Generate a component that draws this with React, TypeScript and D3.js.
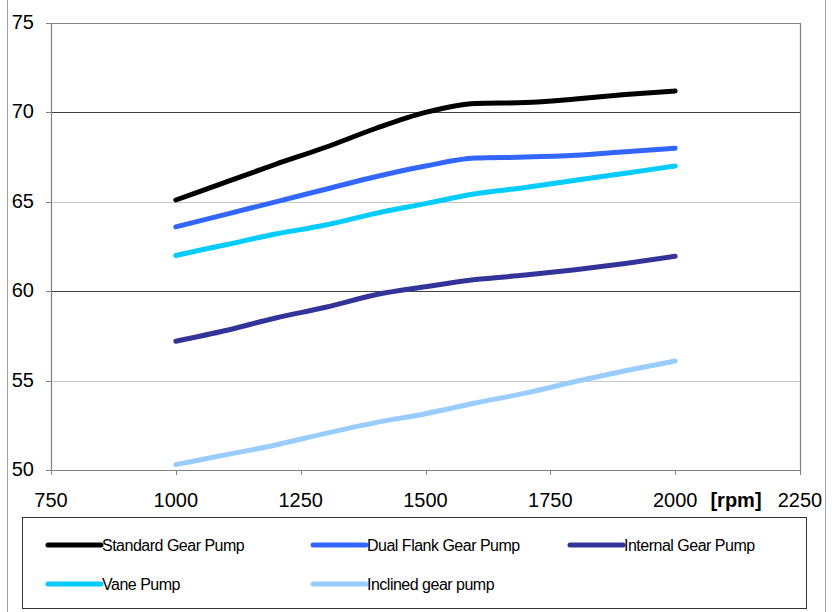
import React from "react";
import * as d3 from "d3";

const rpm = [1000, 1100, 1200, 1300, 1400, 1500, 1600, 1700, 1800, 1900, 2000];
const standardGear = [65.1, 66.1, 67.1, 68.05, 69.1, 70.0, 70.5, 70.55, 70.75, 71.0, 71.2];
const dualFlankGear = [63.6, 64.3, 65.0, 65.7, 66.4, 67.0, 67.45, 67.5, 67.6, 67.8, 68.0];
const internalGear = [57.2, 57.8, 58.5, 59.1, 59.8, 60.25, 60.65, 60.9, 61.2, 61.55, 61.95];
const vanePump = [62.0, 62.6, 63.2, 63.7, 64.35, 64.9, 65.45, 65.8, 66.2, 66.6, 67.0];
const inclinedGear = [50.3, 50.85, 51.4, 52.05, 52.65, 53.15, 53.75, 54.3, 54.95, 55.55, 56.1];

const seriesNames = ["Standard Gear Pump", "Dual Flank Gear Pump", "Internal Gear Pump", "Vane Pump", "Inclined gear pump"];
const seriesValues = [standardGear, dualFlankGear, internalGear, vanePump, inclinedGear];
const seriesColors = ["#000000", "#3366FF", "#333399", "#00CCFF", "#99CCFF"];

const xTicks = [750, 1000, 1250, 1500, 1750, 2000, 2250];
const yTicks = [50, 55, 60, 65, 70, 75];
const darkGrid = [60, 70];

export default function App() {
  const left = 51, right = 800, top = 23, bottom = 470;
  const x = d3.scaleLinear().domain([750, 2250]).range([left, right]);
  const y = d3.scaleLinear().domain([50, 75]).range([bottom, top]);
  const line = d3
    .line<number>()
    .x((_, i) => x(rpm[i]))
    .y((d) => y(d))
    .curve(d3.curveMonotoneX);

  const font = "'Liberation Sans', Arial, sans-serif";
  const legendPos = [
    [48, 545],
    [313, 545],
    [570, 545],
    [48, 584],
    [313, 584],
  ];

  return (
    <svg
      width={832}
      height={612}
      style={{ position: "absolute", left: 0, top: 0, background: "#fff" }}
      fontFamily={font}
    >
      <rect x={0} y={0} width={832} height={612} fill="#fff" />
      <line x1={7.5} x2={7.5} y1={0} y2={612} stroke="#a0a0a0" />
      <line x1={825.5} x2={825.5} y1={0} y2={612} stroke="#a0a0a0" />

      {/* gridlines */}
      {yTicks
        .filter((t) => t !== 50 && t !== 75)
        .map((t) => (
          <line
            key={t}
            x1={left}
            x2={right}
            y1={Math.round(y(t)) + 0.5}
            y2={Math.round(y(t)) + 0.5}
            stroke={darkGrid.includes(t) ? "#404040" : "#c8c8c8"}
            strokeWidth={1}
          />
        ))}

      {/* plot border */}
      <path
        d={`M${left + 0.5},${bottom}V${top + 0.5}H${right + 0.5}V${bottom}`}
        fill="none"
        stroke="#808080"
        strokeWidth={1.2}
      />
      <line x1={left} x2={right + 1} y1={bottom + 0.5} y2={bottom + 0.5} stroke="#808080" strokeWidth={1.2} />

      {/* y ticks */}
      {yTicks.map((t) => (
        <g key={t}>
          <line x1={left - 5} x2={left} y1={Math.round(y(t)) + 0.5} y2={Math.round(y(t)) + 0.5} stroke="#808080" />
          <text x={34} y={y(t) + 6} textAnchor="end" fontSize={20} fill="#000">
            {t}
          </text>
        </g>
      ))}

      {/* x ticks */}
      {xTicks.map((t) => (
        <g key={t}>
          <line x1={Math.round(x(t)) + 0.5} x2={Math.round(x(t)) + 0.5} y1={bottom} y2={bottom + 5} stroke="#808080" />
          <text x={x(t)} y={507} textAnchor="middle" fontSize={20} fill="#000">
            {t}
          </text>
        </g>
      ))}
      <text x={736} y={507} textAnchor="middle" fontSize={20} fontWeight="bold" fill="#000">
        [rpm]
      </text>

      {/* series */}
      {seriesValues.map((vals, i) => (
        <path
          key={seriesNames[i]}
          d={line(vals) || ""}
          fill="none"
          stroke={seriesColors[i]}
          strokeWidth={5}
          strokeLinecap="round"
          strokeLinejoin="round"
        />
      ))}

      {/* legend */}
      <rect x={22.5} y={517.5} width={784} height={91} fill="#fff" stroke="#333" strokeWidth={1} />
      {seriesNames.map((name, i) => (
        <g key={name}>
          <line
            x1={legendPos[i][0]}
            x2={legendPos[i][0] + 53}
            y1={legendPos[i][1]}
            y2={legendPos[i][1]}
            stroke={seriesColors[i]}
            strokeWidth={5}
            strokeLinecap="round"
          />
          <text x={legendPos[i][0] + 54} y={legendPos[i][1] + 5.5} fontSize={16} fill="#000" letterSpacing={-0.5}>
            {name}
          </text>
        </g>
      ))}
    </svg>
  );
}
